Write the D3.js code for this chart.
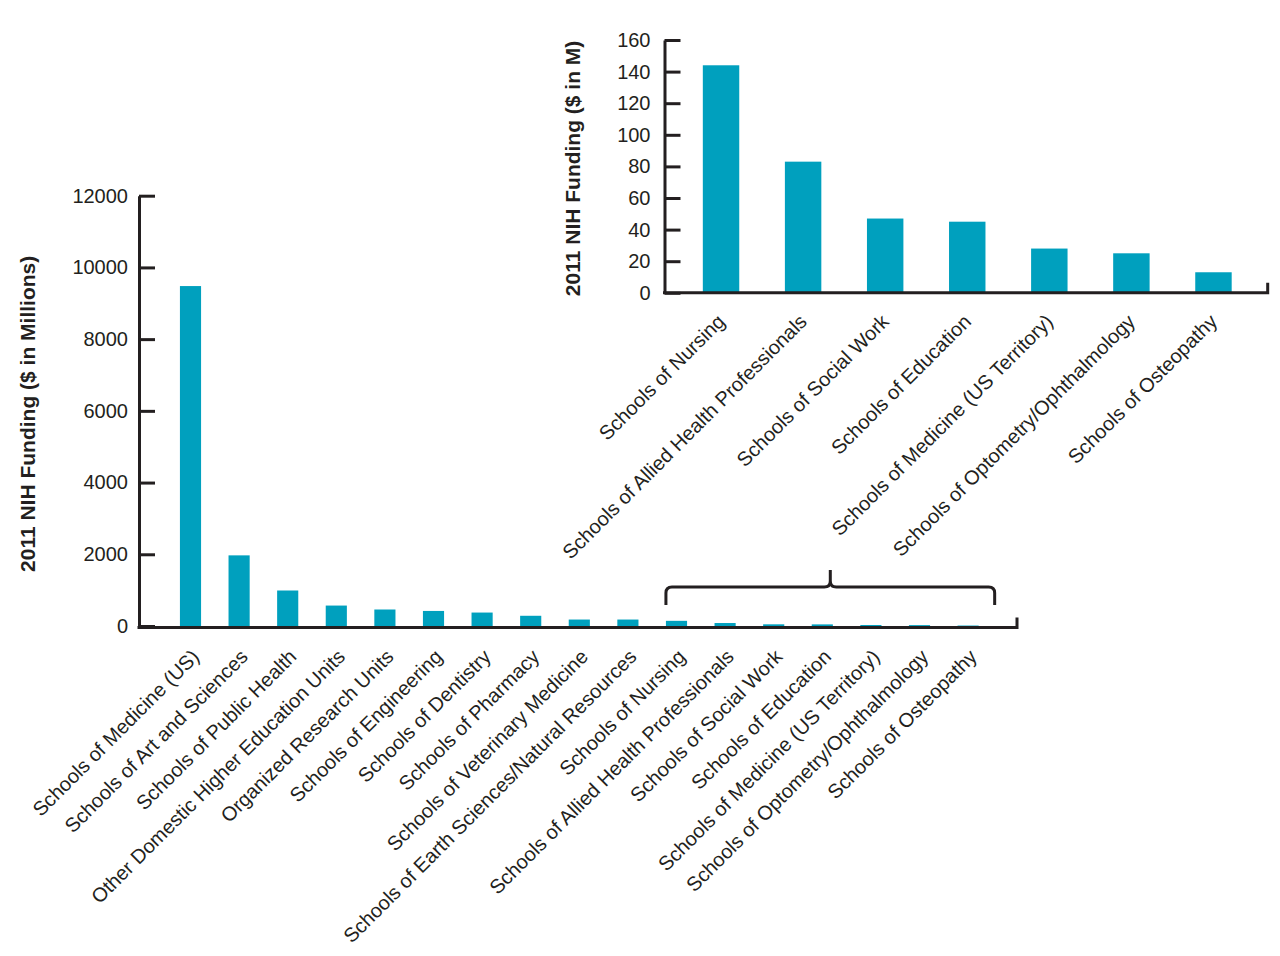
<!DOCTYPE html>
<html lang="en">
<head>
<meta charset="UTF-8">
<title>2011 NIH Funding</title>
<style>
    body { margin: 0; background: #fff; }
    svg { display: block; }
    text { font-family: "Liberation Sans", Arial, sans-serif; fill: #231f20; }
</style>
</head>
<body>
<script src="https://cdn.jsdelivr.net/npm/d3@7"></script>
<script type="text/javascript">
    // categories and values (2011 NIH funding, $ millions)
    var schools = ["Schools of Medicine (US)", "Schools of Art and Sciences", "Schools of Public Health",
        "Other Domestic Higher Education Units", "Organized Research Units", "Schools of Engineering",
        "Schools of Dentistry", "Schools of Pharmacy", "Schools of Veterinary Medicine",
        "Schools of Earth Sciences/Natural Resources", "Schools of Nursing",
        "Schools of Allied Health Professionals", "Schools of Social Work", "Schools of Education",
        "Schools of Medicine (US Territory)", "Schools of Optometry/Ophthalmology", "Schools of Osteopathy"];
    var funding = [9480, 1970, 990, 570, 460, 420, 375, 285, 180, 180, 144, 83, 47, 45, 28, 25, 13];

    // the small ones, shown again in the inset
    var smallSchools = ["Schools of Nursing", "Schools of Allied Health Professionals",
        "Schools of Social Work", "Schools of Education", "Schools of Medicine (US Territory)",
        "Schools of Optometry/Ophthalmology", "Schools of Osteopathy"];
    var smallFunding = [144, 83, 47, 45, 28, 25, 13];

    var mainTicks = [0, 2000, 4000, 6000, 8000, 10000, 12000];
    var insetTicks = [0, 20, 40, 60, 80, 100, 120, 140, 160];

    var w = 1280, h = 956;
    var barColor = "#00a0be";
    var ink = "#231f20";

    var svg = d3.select("body").append("svg")
        .attr("width", w)
        .attr("height", h);

    // ---------- main chart ----------
    var mx0 = 139, mx1 = 1017;
    var yMain = d3.scaleLinear().domain([0, 12000]).range([626, 195.7]);
    var xMain = d3.scaleBand()
        .domain(schools)
        .range([166.2, 992.4])
        .paddingInner(0.565)
        .paddingOuter(0.2825);

    svg.append("g").selectAll("rect")
        .data(funding)
        .enter()
        .append("rect")
        .attr("x", function(d, i) { return xMain(schools[i]); })
        .attr("y", function(d) { return yMain(d); })
        .attr("width", xMain.bandwidth())
        .attr("height", function(d) { return yMain(0) - yMain(d); })
        .attr("fill", barColor);

    var yAxisMain = svg.append("g")
        .attr("transform", "translate(" + mx0 + ",0)")
        .call(d3.axisLeft(yMain).tickValues(mainTicks).tickFormat(d3.format("d"))
            .tickSizeInner(-16).tickSizeOuter(0).tickPadding(11));
    styleAxis(yAxisMain, 20);

    // x axis line (sits just under the zero line) with the small end tick
    var mBase = yMain(0) + 1.5;
    svg.append("path")
        .attr("d", "M" + (mx0 - 1.5) + "," + mBase + "H" + mx1 + "V" + (mBase - 10))
        .attr("fill", "none")
        .attr("stroke", ink)
        .attr("stroke-width", 3);

    svg.append("g").selectAll("text")
        .data(schools)
        .enter()
        .append("text")
        .attr("text-anchor", "end")
        .attr("font-size", "20px")
        .attr("transform", function(d) {
            return "translate(" + (xMain(d) + xMain.bandwidth() / 2 + 10) + "," + (yMain(0) + 32) + ") rotate(-45)";
        })
        .text(function(d) { return d; });

    svg.append("text")
        .attr("transform", "translate(35," + ((yMain(0) + yMain(12000)) / 2 + 3) + ") rotate(-90)")
        .attr("text-anchor", "middle")
        .attr("font-size", "21px")
        .attr("font-weight", "bold")
        .text("2011 NIH Funding ($ in Millions)");

    // bracket over the small schools
    var bl = xMain(smallSchools[0]);
    var br = xMain(smallSchools[smallSchools.length - 1]) + xMain.bandwidth() + 16;
    var bm = (bl + br) / 2;
    var by = 587, r = 6;
    svg.append("path")
        .attr("d", "M" + bl + ",605V" + (by + r) + "Q" + bl + "," + by + " " + (bl + r) + "," + by +
            "H" + (bm - r) + "Q" + bm + "," + by + " " + bm + "," + (by - r) + "V570" +
            "M" + bm + "," + (by - r) + "Q" + bm + "," + by + " " + (bm + r) + "," + by +
            "H" + (br - r) + "Q" + br + "," + by + " " + br + "," + (by + r) + "V605")
        .attr("fill", "none")
        .attr("stroke", ink)
        .attr("stroke-width", 3);

    // ---------- inset chart ----------
    var ix0 = 664.5, ix1 = 1267.7;
    var yInset = d3.scaleLinear().domain([0, 160]).range([292.8, 40]);
    var xInset = d3.scaleBand()
        .domain(smallSchools)
        .range([680, 1254.5])
        .paddingInner(0.556)
        .paddingOuter(0.278);

    svg.append("g").selectAll("rect")
        .data(smallFunding)
        .enter()
        .append("rect")
        .attr("x", function(d, i) { return xInset(smallSchools[i]); })
        .attr("y", function(d) { return yInset(d); })
        .attr("width", xInset.bandwidth())
        .attr("height", function(d) { return yInset(0) - yInset(d); })
        .attr("fill", barColor);

    var yAxisInset = svg.append("g")
        .attr("transform", "translate(" + ix0 + ",0)")
        .call(d3.axisLeft(yInset).tickValues(insetTicks)
            .tickSizeInner(-16).tickSizeOuter(0).tickPadding(14));
    styleAxis(yAxisInset, 20);

    svg.append("path")
        .attr("d", "M" + (ix0 - 1.5) + "," + yInset(0) + "H" + ix1 + "V" + (yInset(0) - 10))
        .attr("fill", "none")
        .attr("stroke", ink)
        .attr("stroke-width", 3);

    svg.append("g").selectAll("text")
        .data(smallSchools)
        .enter()
        .append("text")
        .attr("text-anchor", "end")
        .attr("font-size", "20px")
        .attr("transform", function(d) {
            return "translate(" + (xInset(d) + xInset.bandwidth() / 2 + 5) + "," + (yInset(0) + 30) + ") rotate(-45)";
        })
        .text(function(d) { return d; });

    svg.append("text")
        .attr("transform", "translate(580," + ((yInset(0) + yInset(160)) / 2 + 2) + ") rotate(-90)")
        .attr("text-anchor", "middle")
        .attr("font-size", "21px")
        .attr("font-weight", "bold")
        .text("2011 NIH Funding ($ in M)");

    function styleAxis(g, fontSize) {
        g.select(".domain")
            .attr("stroke", ink)
            .attr("stroke-width", 3);
        g.selectAll(".tick line")
            .attr("stroke", ink)
            .attr("stroke-width", 3);
        g.selectAll(".tick text")
            .attr("font-size", fontSize + "px")
            .attr("font-family", "'Liberation Sans', Arial, sans-serif")
            .attr("fill", ink);
    }
</script>
</body>
</html>
